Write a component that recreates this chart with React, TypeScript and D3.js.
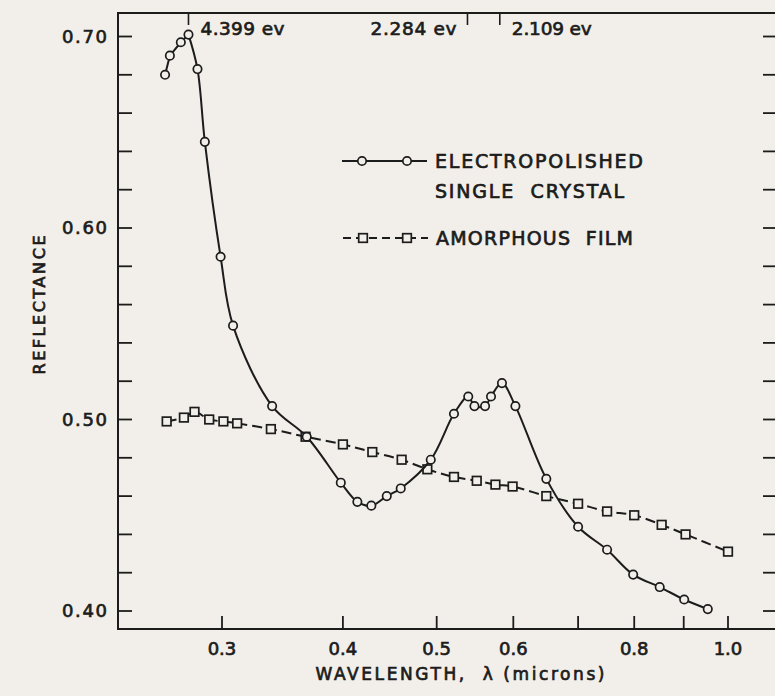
import React from 'react';
import * as d3 from 'd3';

// electropolished single crystal (circles)
const crystalWavelength = [
  0.262, 0.265, 0.272, 0.277, 0.283, 0.288, 0.299, 0.308, 0.338, 0.367, 0.398, 0.414, 0.428, 0.444, 0.459,
  0.493, 0.521, 0.539, 0.547, 0.561, 0.569, 0.584, 0.603, 0.649, 0.7, 0.75, 0.798, 0.85, 0.901, 0.953,
];
const crystalReflectance = [
  0.68, 0.69, 0.697, 0.701, 0.683, 0.645, 0.585, 0.549, 0.507, 0.491, 0.467, 0.457, 0.455, 0.46, 0.464,
  0.479, 0.503, 0.512, 0.507, 0.507, 0.512, 0.519, 0.507, 0.469, 0.444, 0.432, 0.419, 0.4125, 0.406, 0.401,
];

// amorphous film (squares)
const amorphousWavelength = [
  0.263, 0.274, 0.281, 0.291, 0.301, 0.311, 0.337, 0.366, 0.4, 0.429, 0.46, 0.489, 0.521, 0.55, 0.575, 0.599,
  0.649, 0.7, 0.75, 0.8, 0.854, 0.904, 1.0,
];
const amorphousReflectance = [
  0.499, 0.501, 0.504, 0.5, 0.499, 0.498, 0.495, 0.491, 0.487, 0.483, 0.479, 0.474, 0.47, 0.468, 0.466, 0.465,
  0.46, 0.456, 0.452, 0.45, 0.445, 0.44, 0.431,
];

// axis ticks
const xTickValues = [0.3, 0.4, 0.5, 0.6, 0.7, 0.8, 0.9, 1.0];
const xLabelValues = [0.3, 0.4, 0.5, 0.6, 0.8, 1.0];
const xLabelText = ['0.3', '0.4', '0.5', '0.6', '0.8', '1.0'];
const yLabelValues = [0.4, 0.5, 0.6, 0.7];
const yLabelText = ['0.40', '0.50', '0.60', '0.70'];

// energy markers along the top edge
const energyLabels = ['4.399 ev', '2.284 ev', '2.109 ev'];
const energyWavelength = [0.277, 0.538, 0.581];
const energyAnchor = ['start', 'end', 'start'];
const energyTextWidth = [84, 86, 80];

const W = 775;
const H = 696;
const frame = { left: 118, right: 777, top: 13, bottom: 629 };
const ink = '#1c1c1c';
const paper = '#f2efea';
const font = '"DejaVu Sans", sans-serif';
// thin outline on the lettering to get the heavier drafted look
const bold = { stroke: ink, strokeWidth: 0.7 };

const x = d3.scaleLog().domain([0.3, 1.0]).range([222, 728]);
const y = d3.scaleLinear().domain([0.4, 0.7]).range([611, 36.5]);

type Pt = [number, number];
const crystal: Pt[] = crystalWavelength.map((w, i) => [w, crystalReflectance[i]]);
const amorphous: Pt[] = amorphousWavelength.map((w, i) => [w, amorphousReflectance[i]]);

const straight = d3
  .line<Pt>()
  .x((d) => x(d[0]))
  .y((d) => y(d[1]));
const smooth = d3
  .line<Pt>()
  .x((d) => x(d[0]))
  .y((d) => y(d[1]))
  .curve(d3.curveCatmullRom.alpha(0.5));

const Circle = ({ cx, cy }: { cx: number; cy: number }) => (
  <circle cx={cx} cy={cy} r={4.2} fill={paper} stroke={ink} strokeWidth={1.7} />
);
const Square = ({ cx, cy }: { cx: number; cy: number }) => (
  <rect x={cx - 4.3} y={cy - 4.3} width={8.6} height={8.6} fill={paper} stroke={ink} strokeWidth={1.7} />
);

const App: React.FC = () => {
  const yTicks = y.ticks(15);

  return (
    <svg
      width={W}
      height={H}
      style={{ position: 'absolute', left: 0, top: 0, background: paper }}
      fontFamily={font}
    >
      <rect width={W} height={H} fill={paper} />

      {/* frame */}
      <rect
        x={frame.left}
        y={frame.top}
        width={frame.right - frame.left}
        height={frame.bottom - frame.top}
        fill="none"
        stroke={ink}
        strokeWidth={2}
      />

      {/* y ticks, both sides */}
      <g stroke={ink} strokeWidth={1.8}>
        {yTicks.map((t) => (
          <g key={t}>
            <line x1={frame.left} x2={frame.left + 14} y1={y(t)} y2={y(t)} />
            <line x1={763} x2={frame.right} y1={y(t)} y2={y(t)} />
          </g>
        ))}
      </g>
      <g fill={ink} fontSize={18} textAnchor="end" {...bold}>
        {yLabelValues.map((v, i) => (
          <text key={v} x={107} y={y(v)} dy="0.36em" textLength={45} lengthAdjust="spacing">
            {yLabelText[i]}
          </text>
        ))}
      </g>

      {/* x ticks */}
      <g stroke={ink} strokeWidth={1.8}>
        {xTickValues.map((t) => (
          <line key={t} x1={x(t)} x2={x(t)} y1={frame.bottom} y2={frame.bottom - 13} />
        ))}
      </g>
      <g fill={ink} fontSize={18} textAnchor="middle" {...bold}>
        {xLabelValues.map((v, i) => (
          <text key={v} x={x(v)} y={655}>
            {xLabelText[i]}
          </text>
        ))}
      </g>

      {/* energy markers */}
      {energyLabels.map((lab, i) => {
        const px = x(energyWavelength[i]);
        const start = energyAnchor[i] === 'start';
        return (
          <g key={lab}>
            <line x1={px} x2={px} y1={frame.top} y2={frame.top + 12} stroke={ink} strokeWidth={1.6} />
            <text
              x={start ? px + 12 : px - 11}
              y={35}
              fill={ink}
              fontSize={18.5}
              textAnchor={start ? 'start' : 'end'}
              textLength={energyTextWidth[i]}
              lengthAdjust="spacing"
              {...bold}
            >
              {lab}
            </text>
          </g>
        );
      })}

      {/* axis titles */}
      <text
        x={460}
        y={680}
        fill={ink}
        fontSize={17}
        textAnchor="middle"
        textLength={289}
        lengthAdjust="spacing"
        {...bold}
      >
        WAVELENGTH,&#160;&#160;λ (microns)
      </text>
      <text
        transform="translate(45,305) rotate(-90)"
        fill={ink}
        fontSize={16}
        textAnchor="middle"
        textLength={139}
        lengthAdjust="spacing"
        {...bold}
      >
        REFLECTANCE
      </text>

      {/* amorphous film */}
      <path
        d={smooth(amorphous) ?? ''}
        fill="none"
        stroke={ink}
        strokeWidth={2}
        strokeDasharray="10,5"
      />
      {amorphous.map((d, i) => (
        <Square key={i} cx={x(d[0])} cy={y(d[1])} />
      ))}

      {/* single crystal */}
      <path d={straight(crystal.slice(0, 4)) ?? ''} fill="none" stroke={ink} strokeWidth={2} />
      <path d={smooth(crystal.slice(3)) ?? ''} fill="none" stroke={ink} strokeWidth={2} />
      {crystal.map((d, i) => (
        <Circle key={i} cx={x(d[0])} cy={y(d[1])} />
      ))}

      {/* legend */}
      <g>
        <line x1={342} x2={427} y1={161} y2={161} stroke={ink} strokeWidth={2} />
        <Circle cx={362} cy={161} />
        <Circle cx={407} cy={161} />
        <g fill={ink} fontSize={19} {...bold}>
          <text x={435} y={168} textLength={208} lengthAdjust="spacing">
            ELECTROPOLISHED
          </text>
          <text x={435} y={198} textLength={189} lengthAdjust="spacing">
            SINGLE&#160;&#160;CRYSTAL
          </text>
          <text x={436} y={245} textLength={197} lengthAdjust="spacing">
            AMORPHOUS&#160;&#160;FILM
          </text>
        </g>
        <line
          x1={343}
          x2={428}
          y1={238}
          y2={238}
          stroke={ink}
          strokeWidth={2}
          strokeDasharray="8,5"
        />
        <Square cx={363} cy={238} />
        <Square cx={407} cy={238} />
      </g>
    </svg>
  );
};

export default App;
